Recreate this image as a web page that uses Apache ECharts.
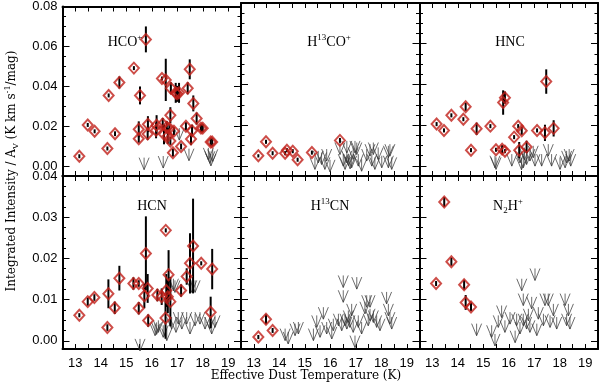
<!DOCTYPE html>
<html><head><meta charset="utf-8">
<script src="https://cdn.jsdelivr.net/npm/echarts@6/dist/echarts.min.js"></script>
<style>html,body{margin:0;padding:0;background:#fff}#c{width:600px;height:384px}</style>
</head><body><div id="c"></div>
<script>
// ---- tick labels ----
const xMajor = [13, 14, 15, 16, 17, 18, 19];
const xMinor = [13.5, 14.5, 15.5, 16.5, 17.5, 18.5];
const yTopMajor = [0, 0.02, 0.04, 0.06, 0.08];
const yTopMinor = [-0.005, 0.005, 0.01, 0.015, 0.025, 0.03, 0.035, 0.045, 0.05, 0.055, 0.065, 0.07, 0.075];
const yBotMajor = [0, 0.01, 0.02, 0.03, 0.04];
const yBotMinor = [0.0025, 0.005, 0.0075, 0.0125, 0.015, 0.0175, 0.0225, 0.025, 0.0275, 0.0325, 0.035, 0.0375];

// ---- detections: [T_dust, I/Av, error] ----
const hcoPts = [[13.16,0.0049,0.001],[13.49,0.0206,0.001],[13.76,0.0174,0.001],[14.26,0.0088,0.001],[14.31,0.0354,0.001],[14.56,0.0162,0.0012],[14.73,0.0419,0.003],[15.30,0.0491,0.001],[15.49,0.0137,0.002],[15.49,0.0184,0.004],[15.54,0.0354,0.0045],[15.77,0.0635,0.0065],[15.85,0.0210,0.004],[15.84,0.0161,0.003],[16.17,0.0179,0.004],[16.19,0.0205,0.005],[16.40,0.0439,0.001],[16.55,0.0432,0.0106],[16.43,0.0211,0.003],[16.48,0.0159,0.005],[16.59,0.0195,0.003],[16.63,0.0151,0.004],[16.73,0.0255,0.004],[16.69,0.0189,0.002],[16.73,0.0126,0.002],[16.75,0.0390,0.003],[16.83,0.0067,0.002],[16.87,0.0175,0.002],[16.94,0.0367,0.005],[16.99,0.0362,0.004],[17.07,0.0367,0.005],[17.15,0.0098,0.0015],[17.34,0.0200,0.002],[17.41,0.0390,0.003],[17.49,0.0485,0.005],[17.54,0.0135,0.003],[17.58,0.0177,0.003],[17.63,0.0314,0.004],[17.76,0.0238,0.003],[17.93,0.0190,0.002],[18.00,0.0190,0.002],[18.31,0.0120,0.002],[18.37,0.0120,0.002]];
const h13coPts = [[13.18,0.0049,0.0008],[13.48,0.0118,0.001],[13.74,0.0062,0.001],[14.23,0.0062,0.001],[14.30,0.0077,0.001],[14.53,0.0072,0.001],[14.72,0.0030,0.001],[15.28,0.0065,0.001],[16.38,0.0125,0.0012]];
const hncPts = [[13.17,0.0205,0.001],[13.46,0.0174,0.001],[13.75,0.0248,0.001],[14.22,0.0229,0.001],[14.31,0.0290,0.002],[14.52,0.0077,0.001],[14.74,0.0182,0.003],[15.28,0.0195,0.001],[15.50,0.0079,0.001],[15.74,0.0082,0.002],[15.85,0.0072,0.001],[15.78,0.0311,0.006],[15.85,0.0335,0.003],[16.21,0.0141,0.001],[16.37,0.0195,0.001],[16.51,0.0172,0.002],[16.41,0.0077,0.004],[16.70,0.0093,0.003],[17.11,0.0174,0.001],[17.42,0.0162,0.004],[17.47,0.0414,0.006],[17.76,0.0184,0.004]];
const hcnPts = [[13.16,0.0062,0.0005],[13.49,0.0095,0.001],[13.75,0.0105,0.0008],[14.26,0.0032,0.0008],[14.30,0.0114,0.0035],[14.55,0.0080,0.0015],[14.73,0.0152,0.003],[15.28,0.0139,0.0015],[15.49,0.0139,0.0008],[15.49,0.0079,0.0015],[15.71,0.0109,0.003],[15.77,0.0212,0.009],[15.84,0.0127,0.0035],[15.86,0.0049,0.0015],[16.22,0.0111,0.0015],[16.39,0.0107,0.002],[16.55,0.0268,0.0005],[16.54,0.0055,0.005],[16.57,0.0122,0.004],[16.63,0.0107,0.004],[16.66,0.0160,0.006],[16.73,0.0095,0.006],[17.15,0.0122,0.0015],[17.37,0.0156,0.002],[17.50,0.0188,0.0073],[17.62,0.0230,0.0115],[17.94,0.0188,0.0005],[18.37,0.0174,0.0049],[18.31,0.0069,0.0038]];
const h13cnPts = [[13.18,0.0009,0.0005],[13.48,0.0052,0.0012],[13.74,0.0025,0.0006]];
const n2hPts = [[13.15,0.0139,0.0006],[13.47,0.0337,0.0012],[13.75,0.0192,0.001],[14.25,0.0136,0.0012],[14.31,0.0093,0.0018],[14.52,0.0082,0.001]];

// ---- upper limits: [T_dust, I/Av] ----
const hcoLim = [[15.70,0.0012],[16.45,0.002],[17.08,0.016],[17.46,0.0057],[18.22,0.0061],[18.28,0.0044],[18.32,0.0031],[18.39,0.0053]];
const h13coLim = [[15.40,0.0012],[15.53,0.0044],[15.66,0.0036],[15.79,0.0012],[15.86,0.0053],[15.99,0.0000],[16.38,0.0085],[16.51,0.0028],[16.58,0.0012],[16.65,0.0044],[16.65,0.0093],[16.84,0.0020],[16.90,0.0061],[16.97,0.0093],[17.04,0.0085],[17.10,0.0028],[17.23,0.0003],[17.43,0.0053],[17.56,0.0077],[17.63,0.0028],[17.69,0.0085],[17.75,0.0012],[17.88,0.0061],[18.02,0.0020],[18.28,0.0069],[18.28,0.0020],[18.34,0.0077],[18.41,0.0012],[16.72,0.0030],[16.78,0.0015]];
const hncLim = [[15.46,0.002],[15.50,0.0012],[16.12,0.0028],[16.44,0.0044],[16.57,0.002],[16.70,0.0036],[16.83,0.0053],[16.96,0.0069],[17.03,0.0028],[17.29,0.0028],[17.55,0.0077],[17.68,0.0028],[18.01,0.0012],[18.21,0.002],[18.27,0.0044],[18.37,0.0053],[18.43,0.0028],[16.62,0.0060],[16.50,0.0010]];
const hcnLim = [[15.54,-0.0010],[16.13,0.0027],[16.19,0.0030],[16.26,0.0035],[16.45,0.0023],[16.59,0.0015],[16.78,0.0043],[16.85,0.0136],[16.91,0.0132],[16.95,0.0035],[17.04,0.0055],[17.18,0.0043],[17.37,0.0055],[17.50,0.0031],[17.57,0.0132],[17.70,0.0132],[17.70,0.0051],[17.89,0.0055],[18.09,0.0043],[18.28,0.0043],[18.35,0.0031],[18.48,0.0047]];
const h13cnLim = [[14.23,0.0015],[14.35,0.0007],[14.62,0.0027],[14.75,0.0031],[15.34,0.0015],[15.47,0.0047],[15.60,0.0023],[15.73,0.0067],[15.86,0.0031],[16.06,0.0019],[16.12,0.0039],[16.32,0.0051],[16.45,0.0039],[16.51,0.0144],[16.51,0.0108],[16.58,0.0051],[16.65,0.0043],[16.71,0.0059],[16.77,0.0047],[16.84,0.0075],[16.90,0.0035],[16.97,-0.0002],[17.04,0.0140],[17.10,0.0047],[17.23,0.0031],[17.36,0.0080],[17.43,0.0096],[17.49,0.0051],[17.56,0.0096],[17.56,0.0063],[17.69,0.0059],[17.82,0.0047],[17.95,0.0039],[18.21,0.0104],[18.28,0.0075],[18.34,0.0055],[18.41,0.0043]];
const n2hLim = [[14.74,0.0027],[15.33,0.0023],[15.46,0.0002],[15.59,0.0047],[15.72,0.0071],[15.85,0.0035],[16.05,0.0055],[16.25,0.0010],[16.31,0.0051],[16.44,0.0031],[16.51,0.0136],[16.57,0.0100],[16.57,0.0051],[16.70,0.0043],[16.77,0.0063],[16.83,0.0035],[16.90,0.0092],[17.03,0.0161],[17.10,0.0027],[17.16,0.0067],[17.36,0.0051],[17.42,0.0100],[17.55,0.0100],[17.62,0.0047],[17.75,0.0075],[17.88,0.0043],[18.21,0.0100],[18.27,0.0051],[18.34,0.0075],[18.40,0.0043]];

// ---- panel labels ----
const labels = ['{n|HCO}{sup|+}', '{n|H}{sup|13}{n|CO}{sup|+}', '{n|HNC}', '{n|HCN}', '{n|H}{sup|13}{n|CN}', '{n|N}{sub|2}{n|H}{sup|+}'];

const panels = [
  {pts: hcoPts, lim: hcoLim, row: 0, col: 0, lx: 125, ly: 42},
  {pts: h13coPts, lim: h13coLim, row: 0, col: 1, lx: 329, ly: 42},
  {pts: hncPts, lim: hncLim, row: 0, col: 2, lx: 510, ly: 42},
  {pts: hcnPts, lim: hcnLim, row: 1, col: 0, lx: 152, ly: 206},
  {pts: h13cnPts, lim: h13cnLim, row: 1, col: 1, lx: 330, ly: 206},
  {pts: n2hPts, lim: n2hLim, row: 1, col: 2, lx: 508, ly: 206}
];

const L = 62.5, W = 178.5, TOP = 3, H = 173;
const grids = [], xAxes = [], yAxes = [], series = [], graphics = [];
const lblStyle = {fontFamily: '"Liberation Sans", Arial, sans-serif', fontSize: 13, color: '#000'};
const richLab = {
  n: {fontFamily: '"Liberation Serif", serif', fontSize: 14, lineHeight: 18, verticalAlign: 'middle', fill: '#000'},
  sup: {fontFamily: '"Liberation Serif", serif', fontSize: 9, lineHeight: 8, verticalAlign: 'top', fill: '#000'},
  sub: {fontFamily: '"Liberation Serif", serif', fontSize: 9, lineHeight: 8, verticalAlign: 'bottom', fill: '#000'}
};

panels.forEach((p, i) => {
  grids.push({left: L + p.col * W, top: TOP + p.row * H, width: W, height: H});
  const yMaj = p.row ? yBotMajor : yTopMajor;
  const yMin = p.row ? yBotMinor : yTopMinor;
  const ymin = p.row ? -0.002 : -0.005, ymax = p.row ? 0.04 : 0.08;
  const xi = xAxes.length, yi = yAxes.length;
  ['bottom', 'top'].forEach(pos => {
    [[xMajor, 5], [xMinor, 5]].forEach(([vals, len], k) => {
      xAxes.push({
        gridIndex: i, type: 'value', min: 12.5, max: 19.5, position: pos,
        axisLine: {show: k === 0, onZero: false, lineStyle: {color: '#000', width: 2}},
        axisTick: {show: true, inside: true, length: len, customValues: vals, lineStyle: {color: '#000', width: 1}},
        axisLabel: Object.assign({show: pos === 'bottom' && k === 0 && p.row === 1, customValues: xMajor, margin: 8,
          formatter: v => String(Math.round(v))}, lblStyle),
        splitLine: {show: false}
      });
    });
  });
  ['left', 'right'].forEach(pos => {
    [[yMaj, 7], [yMin, 3.5]].forEach(([vals, len], k) => {
      yAxes.push({
        gridIndex: i, type: 'value', min: ymin, max: ymax, position: pos,
        axisLine: {show: k === 0, onZero: false, lineStyle: {color: '#000', width: 2}},
        axisTick: {show: true, inside: true, length: len, customValues: vals, lineStyle: {color: '#000', width: 1}},
        axisLabel: Object.assign({show: pos === 'left' && k === 0 && p.col === 0, customValues: yMaj, margin: 5,
          formatter: v => v.toFixed(2)}, lblStyle),
        splitLine: {show: false}
      });
    });
  });
  series.push({
    type: 'scatter', xAxisIndex: xi, yAxisIndex: yi, data: p.lim, silent: true, z: 1,
    symbol: 'path://M0,0L5,12L10,0M5,0L5,12', symbolSize: [10, 12],
    itemStyle: {color: 'rgba(0,0,0,0)', borderColor: '#333', borderWidth: 0.9}
  });
  series.push({
    type: 'custom', xAxisIndex: xi, yAxisIndex: yi, data: p.pts, silent: true, z: 2,
    encode: {x: 0, y: 1},
    renderItem: (params, api) => {
      const x = api.value(0), y = api.value(1), e = api.value(2);
      const a = api.coord([x, y - e]), b = api.coord([x, y + e]);
      return {type: 'line', shape: {x1: a[0], y1: a[1], x2: b[0], y2: b[1]}, style: {stroke: '#000', lineWidth: 2}};
    }
  });
  series.push({
    type: 'scatter', xAxisIndex: xi, yAxisIndex: yi, data: p.pts, silent: true, z: 3,
    encode: {x: 0, y: 1},
    symbol: 'diamond', symbolSize: [10, 11],
    itemStyle: {color: 'rgba(0,0,0,0)', borderColor: '#c0201a', borderWidth: 2}
  });
  graphics.push({type: 'text', x: p.lx, y: p.ly, z: 10,
    style: {text: labels[i], rich: richLab, align: 'center', verticalAlign: 'middle'}});
});

graphics.push({type: 'text', x: 306, y: 376, z: 10,
  style: {text: 'Effective Dust Temperature (K)', fontFamily: '"DejaVu Serif", serif', fontSize: 12, fill: '#000', align: 'center', verticalAlign: 'middle'}});
graphics.push({type: 'text', x: 12, y: 171, rotation: Math.PI / 2, z: 10,
  style: {text: '{a|Integrated Intensity / A}{sb|V}{a| (K km s}{sp|-1}{a|/mag)}', align: 'center', verticalAlign: 'middle',
    rich: {
      a: {fontFamily: '"DejaVu Serif", serif', fontSize: 12, lineHeight: 16, verticalAlign: 'middle', fill: '#000'},
      sb: {fontFamily: '"DejaVu Serif", serif', fontSize: 8, lineHeight: 7, verticalAlign: 'bottom', fill: '#000'},
      sp: {fontFamily: '"DejaVu Serif", serif', fontSize: 8, lineHeight: 7, verticalAlign: 'top', fill: '#000'}
    }}});

const chart = echarts.init(document.getElementById('c'), null, {renderer: 'canvas'});
chart.setOption({
  animation: false,
  backgroundColor: '#fff',
  grid: grids, xAxis: xAxes, yAxis: yAxes, series: series, graphic: graphics
});
</script></body></html>
